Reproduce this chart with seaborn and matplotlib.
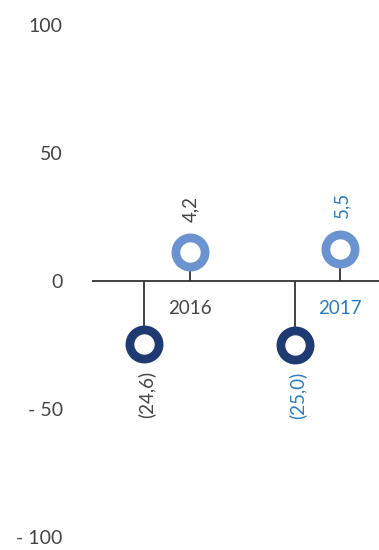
import matplotlib
matplotlib.use("Agg")
import matplotlib.pyplot as plt
import matplotlib.transforms as mtransforms
import numpy as np
import pandas as pd
import seaborn as sns

# Data
years = ["2016", "2017"]
negative_values = [-24.6, -25.0]
positive_values = [4.2, 5.5]
y_ticks = [100, 50, 0, -50, -100]
y_tick_labels = ["100", "50", "0", "- 50", "- 100"]

# Styling
DARK = "#1f3a72"
LIGHT = "#6a93cf"
TEXT_COLORS = ["#444444", "#2b7bc4"]
LINE = "#333333"
FONT = ["Lato", "DejaVu Sans"]

sns.set_theme(style="white")
plt.rcParams["font.family"] = FONT

DPI = 100
W, H = 379, 550
fig = plt.figure(figsize=(W / DPI, H / DPI), dpi=DPI)
ax = fig.add_axes([92 / W, (H - 537) / H, (W - 92) / W, 512 / H])

centers = np.arange(len(years))
spread = 0.151
neg_x = centers - spread
pos_x = centers + spread

df_neg = pd.DataFrame({"x": neg_x, "value": negative_values, "year": years})
df_pos = pd.DataFrame({"x": pos_x, "value": positive_values, "year": years})

# zero baseline
ax.axhline(0, color=LINE, lw=1.3, zorder=1)

# stems
ax.vlines(df_neg["x"], 0, df_neg["value"], color=LINE, lw=1.3, zorder=1)
ax.vlines(df_pos["x"], 0, df_pos["value"], color=LINE, lw=1.3, zorder=1)

ring_size = 21.0 ** 2
ring_edge = 6.3

sns.scatterplot(data=df_neg, x="x", y="value", ax=ax, s=ring_size,
                facecolor="white", edgecolor=DARK, linewidth=ring_edge,
                zorder=3, legend=False)
sns.scatterplot(data=df_pos, x="x", y="value", ax=ax, s=ring_size,
                facecolor="white", edgecolor=LIGHT, linewidth=ring_edge,
                zorder=3, legend=False)
# the positive rings sit on top of their stems
pos_coll = ax.collections[-1]
pos_coll.set_offset_transform(
    mtransforms.offset_copy(ax.transData, fig=fig, x=0, y=18, units="dots"))

def fmt(v):
    return f"{abs(v):.1f}".replace(".", ",")

for i, yr in enumerate(years):
    c = TEXT_COLORS[i]
    ax.annotate(fmt(positive_values[i]), (pos_x[i], positive_values[i]),
                xytext=(1, 35), textcoords="offset points", rotation=90,
                ha="center", va="bottom", fontsize=13.5, color=c)
    ax.annotate(f"({fmt(negative_values[i])})", (neg_x[i], negative_values[i]),
                xytext=(2, -19.5), textcoords="offset points", rotation=90,
                ha="center", va="top", fontsize=13.5, color=c)
    ax.annotate(yr, (pos_x[i], 0), xytext=(0, -19.5),
                textcoords="offset points", ha="center", va="center",
                fontsize=13.5, color=c)

ax.set_xlim(-0.496, 1.408)
ax.set_ylim(-100, 100)
ax.set_yticks(y_ticks)
ax.set_yticklabels(y_tick_labels, fontsize=14, color="#444444")
ax.tick_params(axis="y", length=0, pad=21)
ax.set_xticks([])
ax.set_xlabel("")
ax.set_ylabel("")
for s in ax.spines.values():
    s.set_visible(False)
ax.set_facecolor("none")

fig.savefig("out.png", dpi=DPI, facecolor="white")
